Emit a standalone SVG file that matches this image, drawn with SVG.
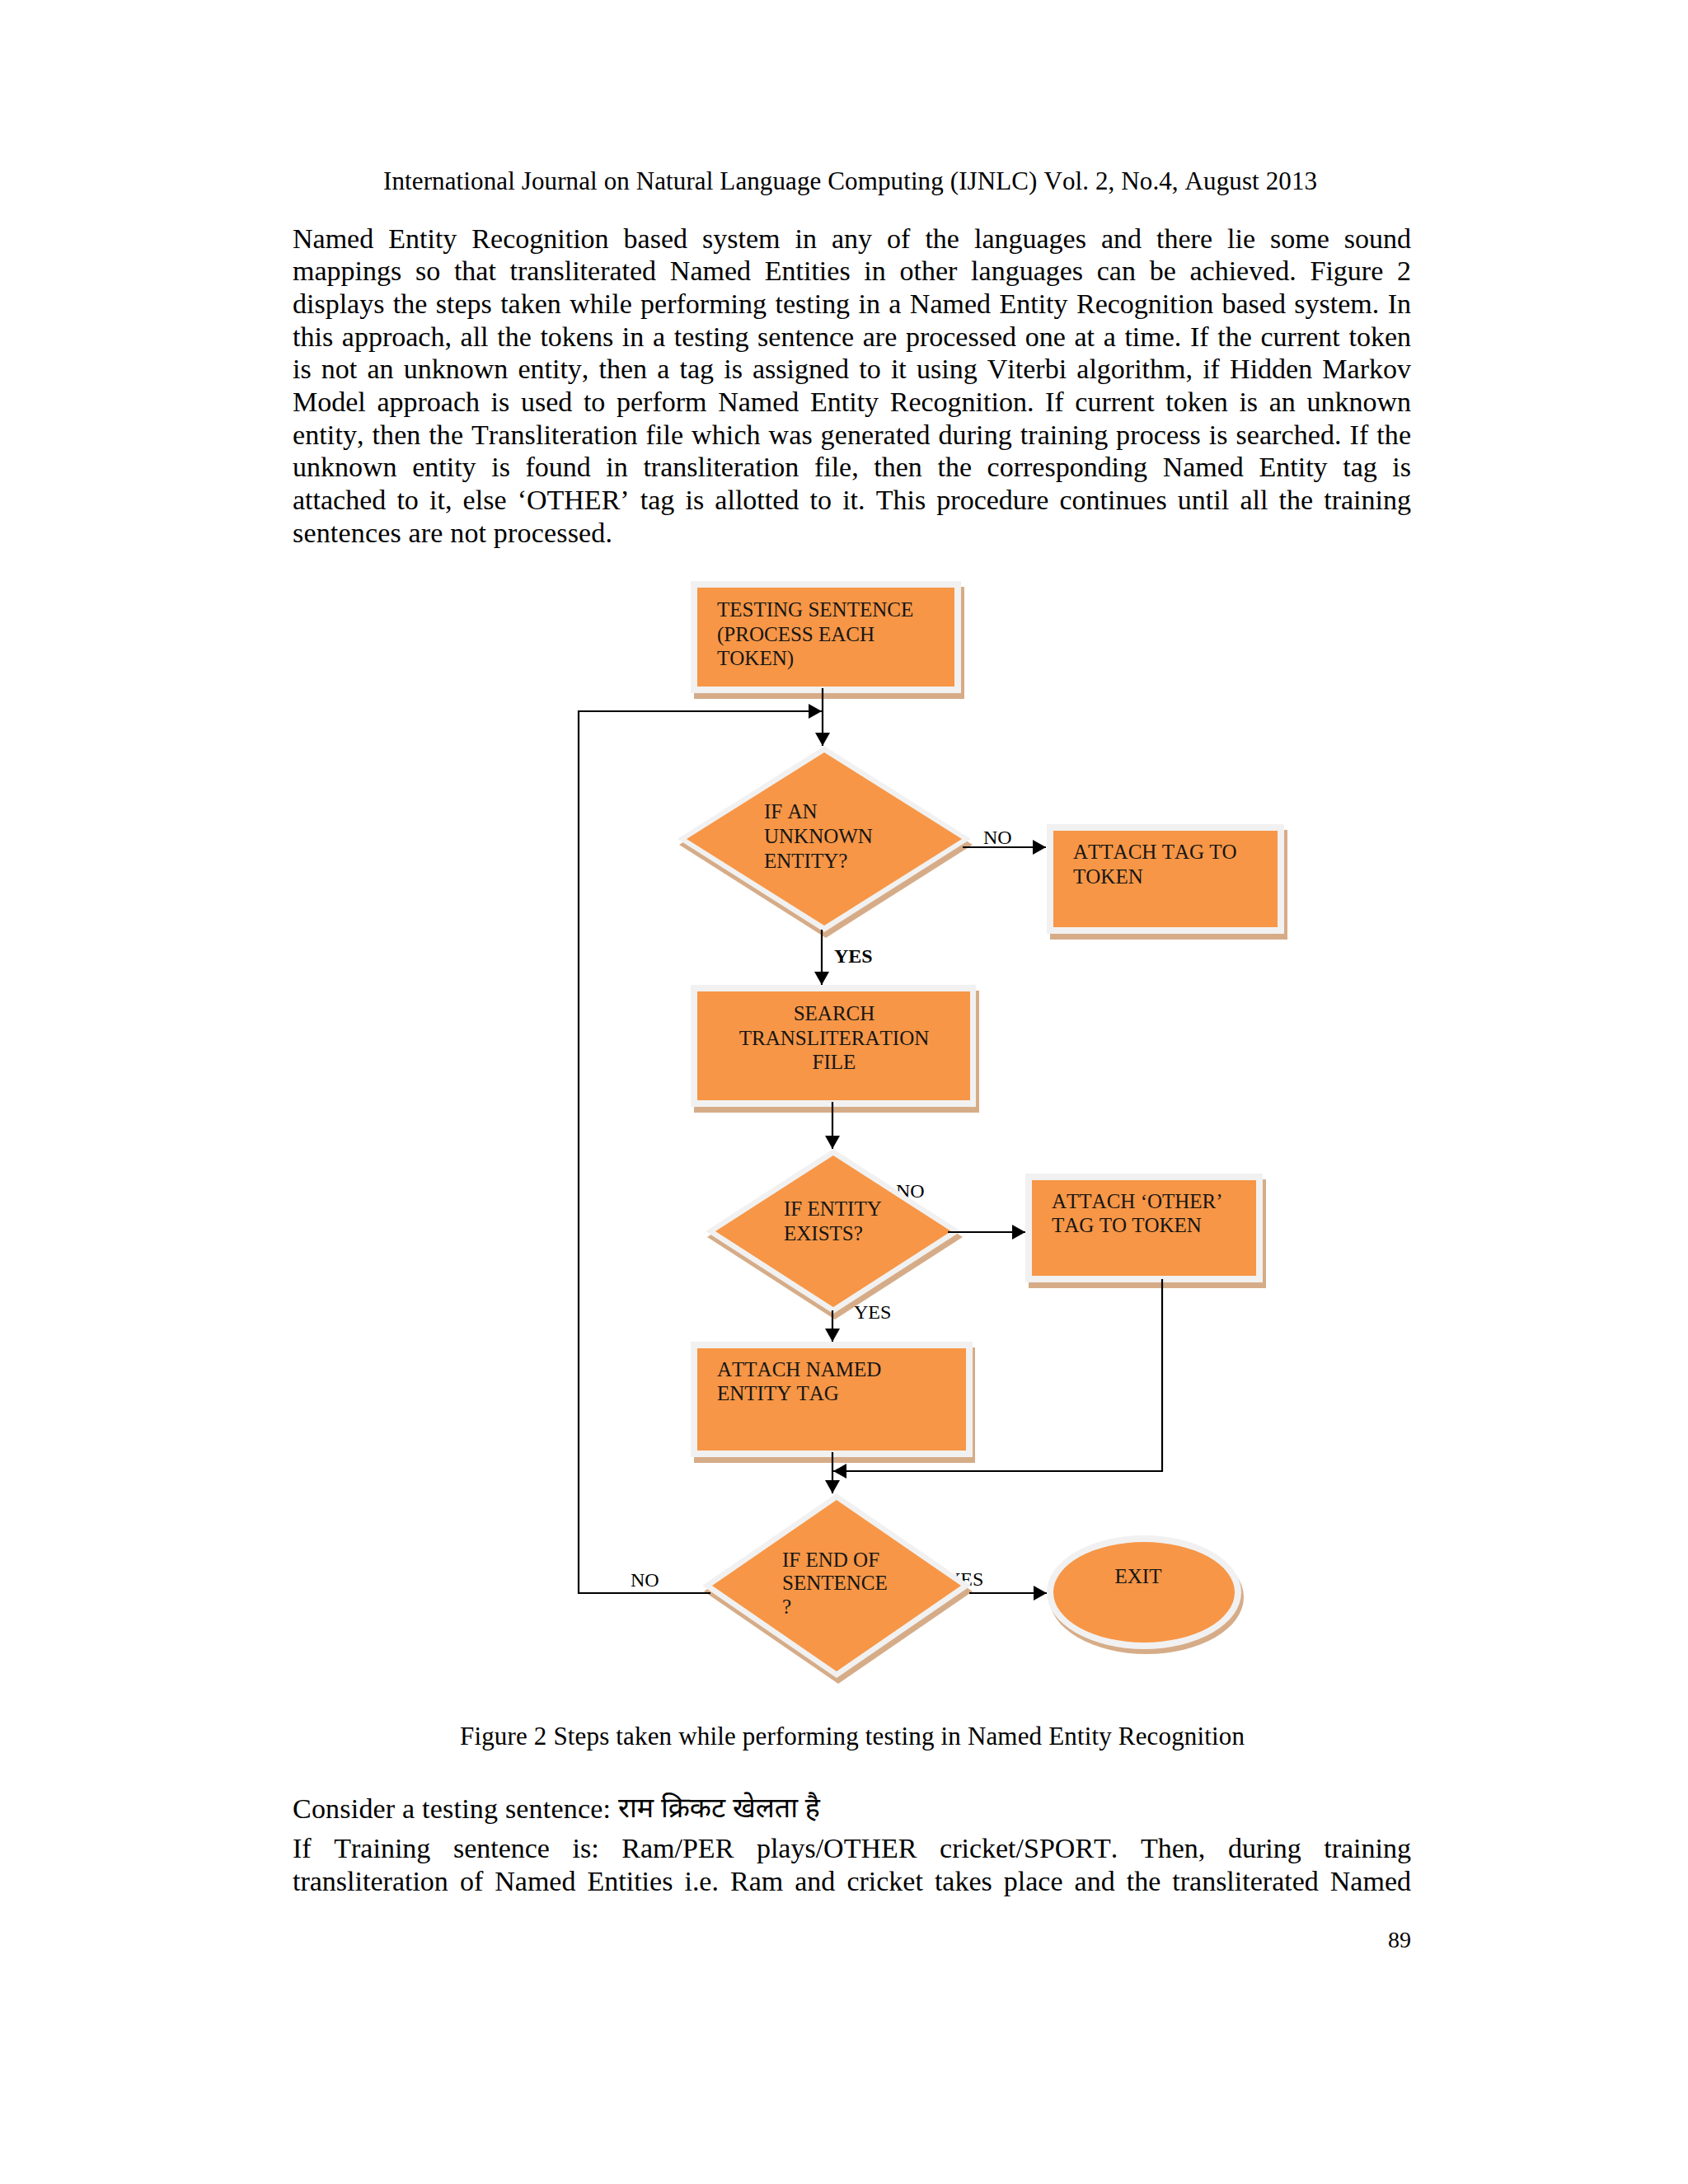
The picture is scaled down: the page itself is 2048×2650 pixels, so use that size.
<svg xmlns="http://www.w3.org/2000/svg" width="2048" height="2650" viewBox="0 0 2048 2650">
<style>
  .t { font-family: "Liberation Serif", "Times New Roman", serif; fill: #000; font-kerning: none; }
  .body { font-size: 34px; }
  .hdr { font-size: 31px; }
  .node { font-family: "Liberation Serif", "Times New Roman", serif; font-size: 25px; fill: #151515; font-kerning: none; }
  .lbl { font-family: "Liberation Serif", "Times New Roman", serif; font-size: 24px; fill: #000; }
  .lblb { font-family: "Liberation Serif", "Times New Roman", serif; font-size: 24px; font-weight: bold; fill: #000; }
  .deva { font-family: "Noto Sans Devanagari", "Noto Serif Devanagari", "Lohit Devanagari", "Mangal", "FreeSerif", sans-serif; font-size: 34px; fill: #000; }
  .orange { fill: #F79646; }
  .rim { fill: #F1F1F1; }
  .shadow { fill: #D6AC88; }
  .conn { fill: none; stroke: #000; stroke-width: 2.2; }
</style>
<defs>
  <marker id="arrow" markerUnits="userSpaceOnUse" markerWidth="16" markerHeight="18" refX="16" refY="9" orient="auto">
    <path d="M0,0 L16,9 L0,18 Z" fill="#000"/>
  </marker>
</defs>
<rect x="0" y="0" width="2048" height="2650" fill="#fff"/>

<g id="page-text">
  <text class="t hdr" x="465" y="230" textLength="1133" lengthAdjust="spacing">International Journal on Natural Language Computing (IJNLC) Vol. 2, No.4, August 2013</text>
  <text class="t body" x="355" y="300.7" style="word-spacing:9.5px" textLength="1357" lengthAdjust="spacing">Named Entity Recognition based system in any of the languages and there lie some sound</text>
  <text class="t body" x="355" y="340.4" style="word-spacing:8.2px" textLength="1357" lengthAdjust="spacing">mappings so that transliterated Named Entities in other languages can be achieved. Figure 2</text>
  <text class="t body" x="355" y="380" style="word-spacing:1.9px" textLength="1357" lengthAdjust="spacing">displays the steps taken while performing testing in a Named Entity Recognition based system. In</text>
  <text class="t body" x="355" y="419.7" style="word-spacing:2.16px" textLength="1357" lengthAdjust="spacing">this approach, all the tokens in a testing sentence are processed one at a time. If the current token</text>
  <text class="t body" x="355" y="459.3" style="word-spacing:3.66px" textLength="1357" lengthAdjust="spacing">is not an unknown entity, then a tag is assigned to it using Viterbi algorithm, if Hidden Markov</text>
  <text class="t body" x="355" y="499" style="word-spacing:5.13px" textLength="1357" lengthAdjust="spacing">Model approach is used to perform Named Entity Recognition. If current token is an unknown</text>
  <text class="t body" x="355" y="538.6" style="word-spacing:1.27px" textLength="1357" lengthAdjust="spacing">entity, then the Transliteration file which was generated during training process is searched. If the</text>
  <text class="t body" x="355" y="578.3" style="word-spacing:10.09px" textLength="1357" lengthAdjust="spacing">unknown entity is found in transliteration file, then the corresponding Named Entity tag is</text>
  <text class="t body" x="355" y="617.9" style="word-spacing:4.66px" textLength="1357" lengthAdjust="spacing">attached to it, else ‘OTHER’ tag is allotted to it. This procedure continues until all the training</text>
  <text class="t body" x="355" y="657.6" textLength="388" lengthAdjust="spacing">sentences are not processed.</text>

  <text class="t hdr" x="558" y="2117" textLength="952" lengthAdjust="spacing">Figure 2 Steps taken while performing testing in Named Entity Recognition</text>

  <text class="t body" x="355" y="2206" textLength="386" lengthAdjust="spacing">Consider a testing sentence:</text>
  <text class="deva" x="750" y="2205">राम क्रिकट खेलता है</text>
  <text class="t body" x="355" y="2254" style="word-spacing:19.1px" textLength="1357" lengthAdjust="spacing">If Training sentence is: Ram/PER plays/OTHER cricket/SPORT. Then, during training</text>
  <text class="t body" x="355" y="2294" style="word-spacing:5.53px" textLength="1357" lengthAdjust="spacing">transliteration of Named Entities i.e. Ram and cricket takes place and the transliterated Named</text>
  <text class="t" x="1712" y="2363" font-size="28" text-anchor="end">89</text>
</g>

<g id="hidden-labels">
  <text class="lbl" x="1087" y="1453">NO</text>
  <text class="lbl" x="1036" y="1600">YES</text>
  <text class="lbl" x="1148" y="1924">YES</text>
</g>

<g id="node-testing-sentence">
  <rect class="shadow" x="842" y="712" width="328" height="136"/>
  <rect class="rim" x="838" y="705" width="328" height="136"/>
  <rect class="orange" x="846" y="713" width="312" height="120"/>
  <text class="node" x="870" y="748">TESTING SENTENCE</text>
  <text class="node" x="870" y="777.5">(PROCESS EACH</text>
  <text class="node" x="870" y="807">TOKEN)</text>
</g>

<g id="node-unknown-entity">
  <polygon class="shadow" points="1002,912 1180,1025 1002,1138 824,1025"/>
  <polygon class="rim" points="1000,905 1178,1018 1000,1131 822,1018"/>
  <polygon class="orange" points="1000,913 1167,1018 1000,1123 833,1018"/>
  <text class="node" x="927" y="993">IF AN</text>
  <text class="node" x="927" y="1023">UNKNOWN</text>
  <text class="node" x="927" y="1053">ENTITY?</text>
</g>

<g id="node-attach-tag">
  <rect class="shadow" x="1274" y="1007" width="288" height="133"/>
  <rect class="rim" x="1270" y="1000" width="288" height="133"/>
  <rect class="orange" x="1278" y="1008" width="272" height="117"/>
  <text class="node" x="1302" y="1042">ATTACH TAG TO</text>
  <text class="node" x="1302" y="1072">TOKEN</text>
</g>

<g id="node-search">
  <rect class="shadow" x="842" y="1202" width="346" height="148"/>
  <rect class="rim" x="838" y="1195" width="346" height="148"/>
  <rect class="orange" x="846" y="1203" width="331" height="132"/>
  <text class="node" x="1012" y="1238" text-anchor="middle">SEARCH</text>
  <text class="node" x="1012" y="1268" text-anchor="middle">TRANSLITERATION</text>
  <text class="node" x="1012" y="1297" text-anchor="middle">FILE</text>
</g>

<g id="node-entity-exists">
  <polygon class="shadow" points="1013,1401 1168,1501 1013,1601 858,1501"/>
  <polygon class="rim" points="1011,1394 1166,1494 1011,1594 856,1494"/>
  <polygon class="orange" points="1011,1402 1154,1494 1011,1586 868,1494"/>
  <text class="node" x="951" y="1475">IF ENTITY</text>
  <text class="node" x="951" y="1505">EXISTS?</text>
</g>

<g id="node-attach-other">
  <rect class="shadow" x="1248" y="1431" width="288" height="132"/>
  <rect class="rim" x="1244" y="1424" width="288" height="132"/>
  <rect class="orange" x="1252" y="1432" width="272" height="116"/>
  <text class="node" x="1276" y="1466">ATTACH ‘OTHER’</text>
  <text class="node" x="1276" y="1495">TAG TO TOKEN</text>
</g>

<g id="node-attach-named">
  <rect class="shadow" x="842" y="1635" width="341" height="140"/>
  <rect class="rim" x="838" y="1628" width="342" height="140"/>
  <rect class="orange" x="846" y="1636" width="326" height="124"/>
  <text class="node" x="870" y="1670">ATTACH NAMED</text>
  <text class="node" x="870" y="1699">ENTITY TAG</text>
</g>

<g id="node-end-of-sentence">
  <polygon class="shadow" points="1017,1819 1180,1931 1017,2043 854,1931"/>
  <polygon class="rim" points="1015,1812 1178,1924 1015,2036 852,1924"/>
  <polygon class="orange" points="1015,1820 1166,1924 1015,2028 864,1924"/>
  <text class="node" x="949" y="1901">IF END OF</text>
  <text class="node" x="949" y="1929">SENTENCE</text>
  <text class="node" x="949" y="1958">?</text>
</g>

<g id="node-exit">
  <ellipse class="shadow" cx="1391" cy="1938" rx="118" ry="69"/>
  <ellipse class="rim" cx="1388" cy="1932" rx="118" ry="69"/>
  <ellipse class="orange" cx="1388" cy="1932" rx="110" ry="61"/>
  <text class="node" x="1381" y="1921" text-anchor="middle">EXIT</text>
</g>

<g id="connectors">
  <path class="conn" d="M998,835 V905" marker-end="url(#arrow)"/>
  <path class="conn" d="M862,1933 H702 V863 H997" marker-end="url(#arrow)"/>
  <path class="conn" d="M1168,1028 H1269" marker-end="url(#arrow)"/>
  <path class="conn" d="M997,1128 V1195" marker-end="url(#arrow)"/>
  <path class="conn" d="M1010,1337 V1394" marker-end="url(#arrow)"/>
  <path class="conn" d="M1150,1495 H1244" marker-end="url(#arrow)"/>
  <path class="conn" d="M1010,1590 V1628" marker-end="url(#arrow)"/>
  <path class="conn" d="M1010,1762 V1812" marker-end="url(#arrow)"/>
  <path class="conn" d="M1410,1552 V1785 H1011" marker-end="url(#arrow)"/>
  <path class="conn" d="M1176,1933 H1270" marker-end="url(#arrow)"/>
  <text class="lbl" x="1193" y="1024">NO</text>
  <text class="lblb" x="1012" y="1168">YES</text>
  <text class="lbl" x="765" y="1925">NO</text>
</g>
</svg>
